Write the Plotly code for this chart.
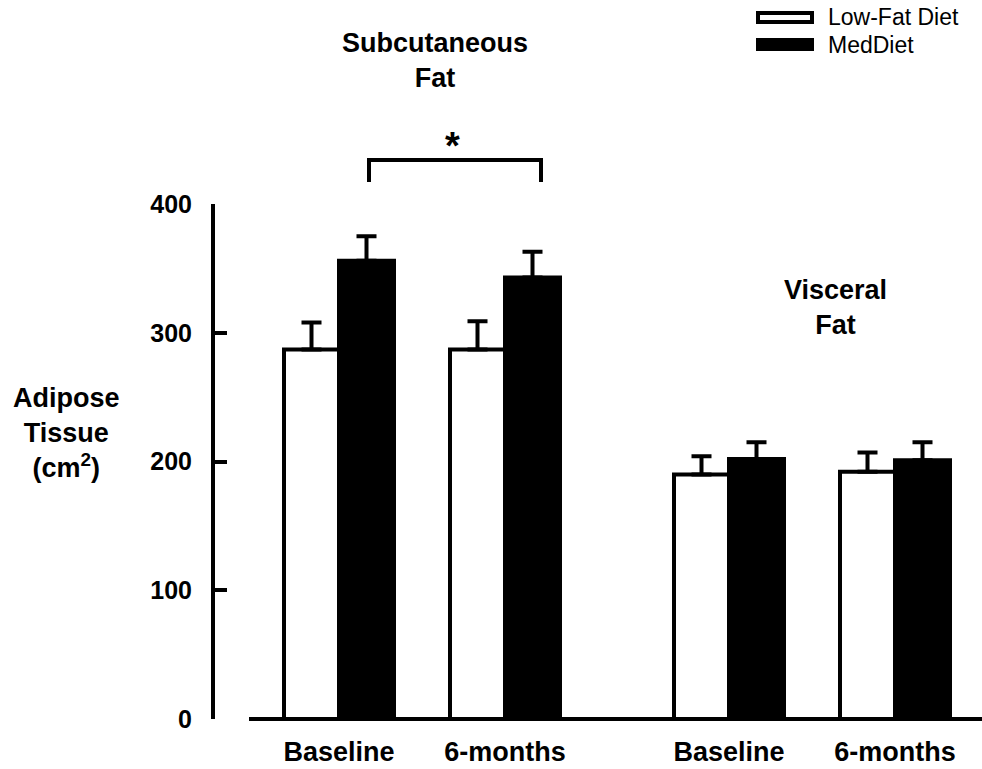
import plotly.graph_objects as go

# ---- data ----
groups = ["Subcutaneous Baseline", "Subcutaneous 6-months", "Visceral Baseline", "Visceral 6-months"]
tick_labels = ["Baseline", "6-months", "Baseline", "6-months"]
series_names = ["Low-Fat Diet", "MedDiet"]
low_fat = [287, 287, 190, 192]
low_fat_err = [21, 22, 14, 15]
med_diet = [356, 343, 202, 201]
med_diet_err = [19, 20, 13, 14]
y_ticks = [0, 100, 200, 300, 400]
panel_titles = ["Subcutaneous<br>Fat", "Visceral<br>Fat"]
y_title = "Adipose<br>Tissue<br>(cm<sup>2</sup>)"

# ---- layout constants (pixel based) ----
W, H = 982, 769
ML, MR, MT, MB = 215, 0, 204, 50
PW, PH = W - ML - MR, H - MT - MB
FONT = "Liberation Sans, Arial, sans-serif"
BAR_W = 55
slot = 166
gap_extra = 58
positions = [124 + i * slot + (gap_extra if i >= 2 else 0) for i in range(len(groups))]


def pxx(x):
    return (x - ML) / PW


def pxy(y):
    return (H - MB - y) / PH


fig = go.Figure()
fig.add_trace(go.Bar(
    x=positions, y=low_fat, name=series_names[0], width=BAR_W, offset=-BAR_W,
    marker=dict(color="white", line=dict(color="black", width=4)),
    error_y=dict(type="data", symmetric=False, array=low_fat_err,
                 arrayminus=[0] * len(low_fat), color="black", thickness=4, width=10),
    showlegend=False,
))
fig.add_trace(go.Bar(
    x=positions, y=med_diet, name=series_names[1], width=BAR_W, offset=0,
    marker=dict(color="black", line=dict(color="black", width=4)),
    error_y=dict(type="data", symmetric=False, array=med_diet_err,
                 arrayminus=[0] * len(med_diet), color="black", thickness=4, width=10),
    showlegend=False,
))

shapes = []
# x axis line (starts right of the y axis)
shapes.append(dict(type="line", xref="paper", yref="paper", x0=pxx(249), x1=1.0,
                   y0=0, y1=0, line=dict(color="black", width=4)))
# significance bracket
bx0, bx1, by0, by1 = pxx(369), pxx(541), pxy(160), pxy(182)
shapes.append(dict(type="path", xref="paper", yref="paper",
                   path=f"M {bx0},{by1} L {bx0},{by0} L {bx1},{by0} L {bx1},{by1}",
                   line=dict(color="black", width=4)))
# legend boxes
shapes.append(dict(type="rect", xref="paper", yref="paper",
                   x0=pxx(758), x1=pxx(812), y0=pxy(22), y1=pxy(13),
                   fillcolor="white", line=dict(color="black", width=4)))
shapes.append(dict(type="rect", xref="paper", yref="paper",
                   x0=pxx(756), x1=pxx(814), y0=pxy(51), y1=pxy(38),
                   fillcolor="black", line=dict(color="black", width=0)))

bold = dict(family=FONT, size=27, color="black", weight="bold")
tick_bold = dict(family=FONT, size=25, color="black", weight="bold")
annotations = [
    dict(text=panel_titles[0], xref="paper", yref="paper", x=pxx(435), y=pxy(60),
         xanchor="center", yanchor="middle", showarrow=False, font=bold),
    dict(text=panel_titles[1], xref="paper", yref="paper", x=pxx(835), y=pxy(307),
         xanchor="center", yanchor="middle", showarrow=False, font=bold),
    dict(text="*", xref="paper", yref="paper", x=pxx(452), y=pxy(146),
         xanchor="center", yanchor="middle", showarrow=False,
         font=dict(family=FONT, size=38, color="black", weight="bold")),
    dict(text=y_title, xref="paper", yref="paper", x=pxx(66), y=pxy(433),
         xanchor="center", yanchor="middle", showarrow=False, font=bold),
    dict(text=series_names[0], xref="paper", yref="paper", x=pxx(826), y=pxy(17),
         xanchor="left", yanchor="middle", showarrow=False,
         font=dict(family=FONT, size=23, color="black")),
    dict(text=series_names[1], xref="paper", yref="paper", x=pxx(826), y=pxy(45),
         xanchor="left", yanchor="middle", showarrow=False,
         font=dict(family=FONT, size=23, color="black")),
]

fig.update_layout(
    width=W, height=H,
    margin=dict(l=ML, r=MR, t=MT, b=MB, pad=0),
    paper_bgcolor="white", plot_bgcolor="white",
    barmode="overlay",
    shapes=shapes, annotations=annotations,
    xaxis=dict(range=[0, PW], tickvals=positions, ticktext=tick_labels,
               showline=False, showgrid=False, zeroline=False, ticks="",
               tickfont=bold, ticklabelstandoff=14),
    yaxis=dict(range=[0, 400], tickvals=y_ticks, showline=True, linewidth=4,
               linecolor="black", ticks="inside", ticklen=12, tickwidth=4,
               tickcolor="black", showgrid=False, zeroline=False,
               tickfont=tick_bold, ticklabelstandoff=14),
)

fig.write_html("out.html", config={"displayModeBar": False},
               post_script="document.body.style.margin='0';")
